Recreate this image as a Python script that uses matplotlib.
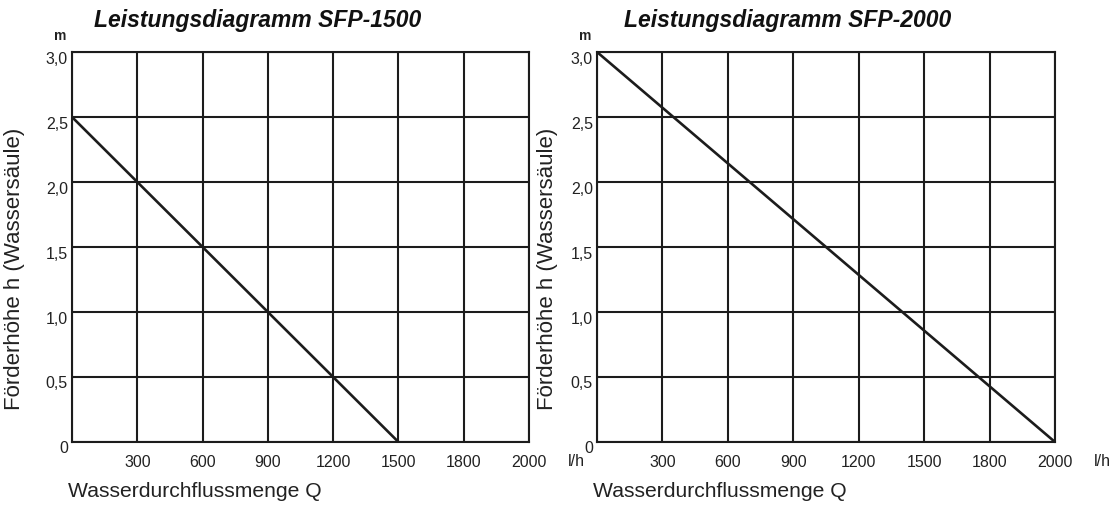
import numpy as np
import matplotlib
matplotlib.use("Agg")
import matplotlib.pyplot as plt
from matplotlib.transforms import offset_copy

# ---- data ----
q_tick_values = [0, 300, 600, 900, 1200, 1500, 1800, 2000]   # grid columns (equal width)
q_tick_labels = ["", "300", "600", "900", "1200", "1500", "1800", "2000"]
h_ticks = [0, 0.5, 1.0, 1.5, 2.0, 2.5, 3.0]
h_tick_labels = ["0", "0,5", "1,0", "1,5", "2,0", "2,5", "3,0"]

titles = ["Leistungsdiagramm SFP-1500", "Leistungsdiagramm SFP-2000"]
sfp1500_q = [0, 1500]
sfp1500_h = [2.5, 0.0]
sfp2000_q = [0, 2000]
sfp2000_h = [3.0, 0.0]
series = [(sfp1500_q, sfp1500_h), (sfp2000_q, sfp2000_h)]

xlabel = "Wasserdurchflussmenge Q"
ylabel = "Förderhöhe h (Wassersäule)"

plt.rcParams['font.family'] = ['Liberation Sans', 'DejaVu Sans']

W, H = 1119, 510
fig = plt.figure(figsize=(W / 100, H / 100), dpi=100)

positions = [(72, 529), (597, 1055)]
top_px, bot_px = 53, 443
title_cx = [258, 788]
ylabel_cx = [15, 548]
col = '#1c1c1c'
grid_idx = np.arange(len(q_tick_values))

for i, ((x0, x1), (q, h)) in enumerate(zip(positions, series)):
    ax = fig.add_axes([x0 / W, 1 - bot_px / H, (x1 - x0) / W, (bot_px - top_px) / H])
    # map flow values onto the equally spaced grid columns
    xpos = np.interp(q, q_tick_values, grid_idx)
    ax.plot(xpos, h, color=col, lw=1.9, solid_capstyle='butt', clip_on=False, zorder=3)
    ax.set_xlim(0, len(q_tick_values) - 1)
    ax.set_ylim(0, 3.0)
    ax.set_xticks(grid_idx)
    ax.set_xticklabels(q_tick_labels)
    ax.set_yticks(h_ticks)
    ax.set_yticklabels(h_tick_labels)
    ax.grid(True, color=col, lw=1.5)
    ax.set_axisbelow(True)
    for s in ax.spines.values():
        s.set_color(col)
        s.set_linewidth(1.5)
    ax.tick_params(length=0, labelsize=11.5, labelcolor='#222222', pad=9)
    ax.tick_params(axis='y', pad=3)
    for lbl in ax.get_yticklabels():
        lbl.set_verticalalignment('center')
        lbl.set_transform(offset_copy(lbl.get_transform(), fig=fig, x=0, y=-6, units='dots'))
    # unit labels
    ax.text(1.0, 0, "l/h", transform=offset_copy(ax.transAxes, fig=fig, x=47, y=-19, units='dots'),
            ha='center', va='center', fontsize=11.5, color='#222222')
    ax.text(0, 1.0, "m", transform=offset_copy(ax.transAxes, fig=fig, x=-12, y=17, units='dots'),
            ha='center', va='center', fontsize=10, color='#222222', fontweight='bold')
    # title
    fig.text(title_cx[i] / W, 1 - 20 / H, titles[i], ha='center', va='center',
             fontsize=16.5, fontweight='bold', fontstyle='italic', color='#111111')
    # axis labels
    fig.text(ylabel_cx[i] / W, 1 - 269 / H, ylabel, rotation=90, ha='center', va='center',
             fontsize=16, color='#222222')
    fig.text((x0 - 4) / W, 1 - 492 / H, xlabel, ha='left', va='center',
             fontsize=15.2, color='#222222')

fig.savefig("out.png", dpi=100, facecolor='white')
